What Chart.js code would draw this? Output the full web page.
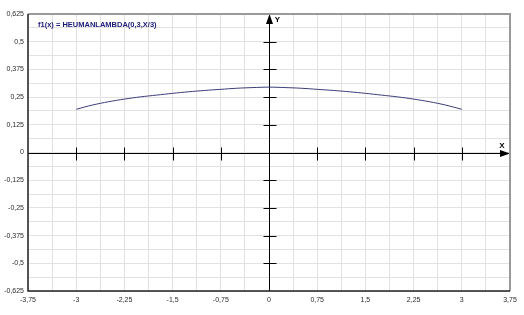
<!DOCTYPE html>
<html lang="en">
<head>
  <meta charset="UTF-8" />
  <title>f1(x) = HEUMANLAMBDA(0,3,X/3)</title>
  <style>
    body { margin: 0; background: #ffffff; }
    #wrap { position: relative; width: 524px; height: 315px; }
  </style>
</head>
<body>
  <div id="wrap"><canvas id="chart" width="524" height="315"></canvas></div>

  <script src="https://cdn.jsdelivr.net/npm/chart.js"></script>
  <script>
    // values
    const xValues = [-3, -2.75, -2.5, -2.25, -2, -1.75, -1.5, -1.25, -1, -0.75, -0.5, -0.25, 0,
                     0.25, 0.5, 0.75, 1, 1.25, 1.5, 1.75, 2, 2.25, 2.5, 2.75, 3];
    const yValues = [0.195, 0.214, 0.229, 0.241, 0.251, 0.259, 0.267, 0.274, 0.280, 0.285, 0.290, 0.293, 0.295,
                     0.293, 0.290, 0.285, 0.280, 0.274, 0.267, 0.259, 0.251, 0.241, 0.229, 0.214, 0.195];
    const xTickLabels = [-3.75, -3, -2.25, -1.5, -0.75, 0, 0.75, 1.5, 2.25, 3, 3.75];
    const yTickLabels = [-0.625, -0.5, -0.375, -0.25, -0.125, 0, 0.125, 0.25, 0.375, 0.5, 0.625];
    const xAxisTicks = [-3, -2.25, -1.5, -0.75, 0.75, 1.5, 2.25, 3];
    const yAxisTicks = [-0.5, -0.375, -0.25, -0.125, 0.125, 0.25, 0.375, 0.5];
    const title = 'f1(x) = HEUMANLAMBDA(0,3,X/3)';

    const points = xValues.map((x, i) => ({ x: x, y: yValues[i] }));
    const fmt = v => String(v).replace('.', ',');
    const isLabel = (list, v) => list.some(t => Math.abs(t - v) < 1e-6);

    const axesPlugin = {
      id: 'axes',
      beforeDatasetsDraw(chart) {
        const ctx = chart.ctx;
        const xs = chart.scales.x, ys = chart.scales.y;
        const a = chart.chartArea;
        const x0 = Math.round(xs.getPixelForValue(0)) + 0.5;
        const y0 = Math.round(ys.getPixelForValue(0)) + 0.5;
        ctx.save();
        ctx.strokeStyle = '#000000';
        ctx.fillStyle = '#000000';
        ctx.lineWidth = 1;
        // axes through zero
        ctx.beginPath();
        ctx.moveTo(a.left, y0); ctx.lineTo(a.right - 6, y0);
        ctx.moveTo(x0, a.bottom); ctx.lineTo(x0, a.top + 6);
        xAxisTicks.forEach(v => {
          const px = Math.round(xs.getPixelForValue(v)) + 0.5;
          ctx.moveTo(px, y0 - 6); ctx.lineTo(px, y0 + 7);
        });
        yAxisTicks.forEach(v => {
          const py = Math.round(ys.getPixelForValue(v)) + 0.5;
          ctx.moveTo(x0 - 6, py); ctx.lineTo(x0 + 7, py);
        });
        ctx.stroke();
        // arrows
        ctx.beginPath();
        ctx.moveTo(a.right, y0); ctx.lineTo(a.right - 10, y0 - 3.5); ctx.lineTo(a.right - 10, y0 + 3.5);
        ctx.closePath();
        ctx.moveTo(x0, a.top); ctx.lineTo(x0 - 3.5, a.top + 10); ctx.lineTo(x0 + 3.5, a.top + 10);
        ctx.closePath();
        ctx.fill();
        ctx.font = 'bold 8px Arial, "Liberation Sans", sans-serif';
        ctx.textBaseline = 'middle';
        ctx.textAlign = 'center';
        ctx.fillText('X', a.right - 8, y0 - 8);
        ctx.fillText('Y', x0 + 8, a.top + 6);
        ctx.restore();
      },
      afterDraw(chart) {
        const ctx = chart.ctx;
        const a = chart.chartArea;
        ctx.save();
        // frame: light top/right, dark left/bottom
        ctx.strokeStyle = '#9a9a9a';
        ctx.lineWidth = 2;
        ctx.beginPath();
        ctx.moveTo(a.left, a.top); ctx.lineTo(a.right, a.top); ctx.lineTo(a.right, a.bottom);
        ctx.stroke();
        ctx.strokeStyle = '#202020';
        ctx.lineWidth = 1.5;
        ctx.beginPath();
        ctx.moveTo(a.left, a.top); ctx.lineTo(a.left, a.bottom); ctx.lineTo(a.right, a.bottom);
        ctx.stroke();
        // title
        ctx.fillStyle = '#1c1c78';
        ctx.font = 'bold 7.5px Arial, "Liberation Sans", sans-serif';
        ctx.textBaseline = 'middle';
        ctx.textAlign = 'left';
        ctx.fillText(title, a.left + 10, a.top + 11);
        ctx.restore();
      }
    };

    new Chart(document.getElementById('chart'), {
      type: 'scatter',
      data: {
        datasets: [{
          data: points,
          showLine: true,
          borderColor: '#3c3c78',
          borderWidth: 1,
          pointRadius: 0,
          tension: 0.3
        }]
      },
      options: {
        responsive: false,
        animation: false,
        layout: { padding: { top: 14, right: 14, left: 0, bottom: 0 } },
        plugins: { legend: { display: false }, tooltip: { enabled: false } },
        scales: {
          x: {
            type: 'linear',
            min: -3.75, max: 3.75,
            border: { display: false },
            grid: { color: '#e2e2e2', lineWidth: 1, drawTicks: false },
            afterFit(s) { s.height = 24; },
            ticks: {
              stepSize: 0.375,
              autoSkip: false,
              maxRotation: 0,
              padding: 5,
              color: '#2a2a2a',
              font: { size: 7, family: 'Arial, "Liberation Sans", sans-serif' },
              callback: v => isLabel(xTickLabels, v) ? fmt(v) : ''
            }
          },
          y: {
            type: 'linear',
            min: -0.625, max: 0.625,
            border: { display: false },
            grid: { color: '#e2e2e2', lineWidth: 1, drawTicks: false },
            afterFit(s) { s.width = 28; },
            ticks: {
              stepSize: 0.0625,
              autoSkip: false,
              padding: 4,
              color: '#2a2a2a',
              font: { size: 7, family: 'Arial, "Liberation Sans", sans-serif' },
              callback: v => isLabel(yTickLabels, v) ? fmt(v) : ''
            }
          }
        }
      },
      plugins: [axesPlugin]
    });
  </script>
</body>
</html>
